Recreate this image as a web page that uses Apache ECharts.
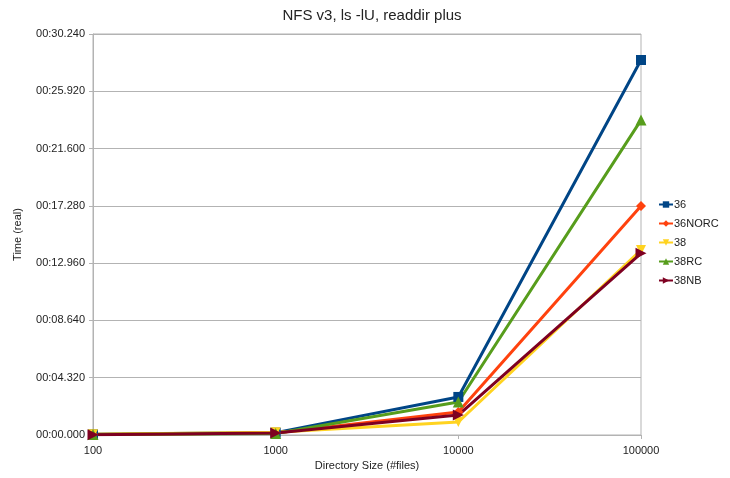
<!DOCTYPE html>
<html><head><meta charset="utf-8">
<script src="https://cdn.jsdelivr.net/npm/echarts@6/dist/echarts.min.js"></script>
<style>html,body{margin:0;padding:0;background:#fff}#c{width:730px;height:478px}</style>
</head><body><div id="c"></div>
<script>
const sizes = [100, 1000, 10000, 100000];
const s36 = [0.05, 0.18, 2.87, 28.28];
const s36NORC = [0.04, 0.15, 1.73, 17.27];
const s38 = [0.06, 0.2, 0.98, 13.95];
const s38RC = [0.03, 0.12, 2.49, 23.75];
const s38NB = [0.02, 0.15, 1.5, 13.7];
const yTicks = [0, 4.32, 8.64, 12.96, 17.28, 21.6, 25.92, 30.24];

const names = ['36', '36NORC', '38', '38RC', '38NB'];
const values = [s36, s36NORC, s38, s38RC, s38NB];
const colors = ['#004586', '#ff420e', '#ffd320', '#579d1c', '#7e0021'];
const symbols = ['rect', 'diamond', 'triangle', 'triangle', 'triangle'];
const rotates = [0, 0, 180, 0, -90];
const symSizes = [10, 10, 10, 11, 11];

function fmt(v) {
  const s = v.toFixed(3);
  return '00:' + (v < 10 ? '0' : '') + s;
}
const font = 'Liberation Sans, Arial, sans-serif';
const chart = echarts.init(document.getElementById('c'), null, {renderer: 'canvas'});
chart.setOption({
  animation: false,
  backgroundColor: '#fff',
  title: {text: 'NFS v3, ls -lU, readdir plus', left: 367, top: 3, textAlign: 'center',
    textStyle: {fontFamily: font, fontSize: 15, fontWeight: 'normal', color: '#222'}},
  grid: {left: 93, right: 89, top: 34, bottom: 43, show: true, borderColor: '#b3b3b3', borderWidth: 1,
    outerBoundsMode: 'none', containLabel: false},
  legend: {orient: 'vertical', left: 653, top: 194, itemGap: 8, itemWidth: 14, itemHeight: 8,
    textStyle: {fontFamily: font, fontSize: 11, color: '#222', padding: [0, 0, 0, -4]},
    data: names},
  xAxis: {type: 'log', logBase: 10, min: 100, max: 100000,
    name: 'Directory Size (#files)', nameLocation: 'middle', nameGap: 24,
    nameTextStyle: {fontFamily: font, fontSize: 11, color: '#222'},
    axisLine: {lineStyle: {color: '#b3b3b3'}},
    axisTick: {show: true, length: 4, inside: false, lineStyle: {color: '#b3b3b3'}},
    minorTick: {show: false},
    splitLine: {show: false},
    axisLabel: {fontFamily: font, fontSize: 11, color: '#222', margin: 10,
      formatter: v => String(Math.round(v))}},
  yAxis: {type: 'value', min: 0, max: 30.24, interval: 4.32,
    name: 'Time (real)', nameLocation: 'middle', nameGap: 70,
    nameTextStyle: {fontFamily: font, fontSize: 11, color: '#222'},
    axisLine: {show: true, lineStyle: {color: '#b3b3b3'}},
    axisTick: {show: true, length: 4, lineStyle: {color: '#b3b3b3'}},
    splitLine: {show: true, lineStyle: {color: '#b3b3b3'}},
    axisLabel: {fontFamily: font, fontSize: 11, color: '#222', margin: 8, formatter: fmt}},
  series: names.map((n, i) => ({
    name: n, type: 'line',
    data: sizes.map((x, j) => [x, values[i][j]]),
    symbol: symbols[i], symbolRotate: rotates[i], symbolSize: symSizes[i],
    showAllSymbol: true,
    lineStyle: {width: 3, color: colors[i]},
    itemStyle: {color: colors[i]}
  }))
});
</script></body></html>
